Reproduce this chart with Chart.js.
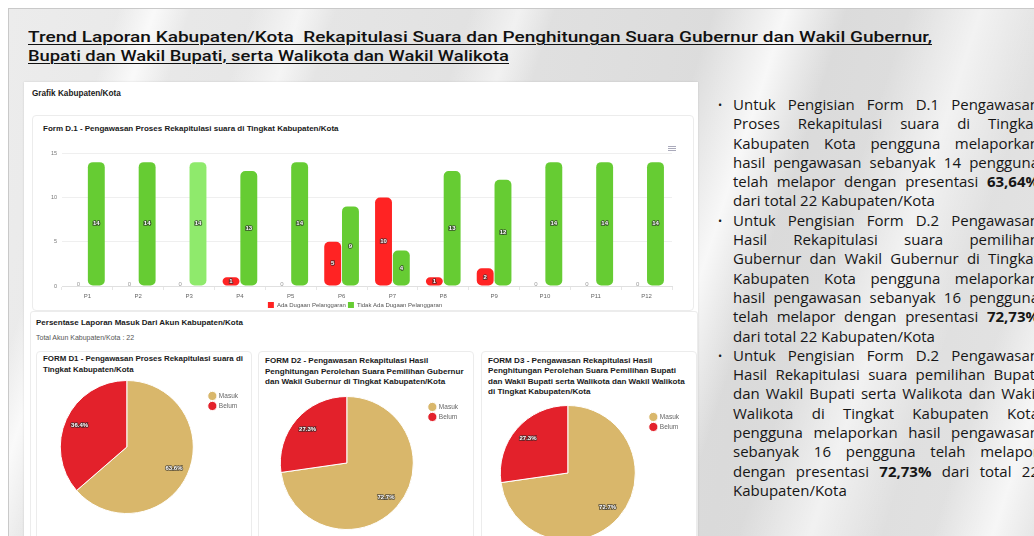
<!DOCTYPE html>
<html>
<head>
<meta charset="utf-8">
<script src="https://cdn.jsdelivr.net/npm/chart.js@4.4.1/dist/chart.umd.min.js"></script>
<style>
  html, body { margin: 0; padding: 0; }
  body { width: 1034px; height: 536px; overflow: hidden; background: #fff; position: relative; font-family: "Liberation Sans", Arial, sans-serif; }
  .slide {
    position: absolute; left: 8px; top: 8px; width: 1040px; height: 540px;
    border: 1px solid #c9c9c9;
    background:
      linear-gradient(108deg,
        rgba(255,255,255,0) 0%, rgba(255,255,255,0) 9%, rgba(255,255,255,.75) 12%, rgba(255,255,255,0) 15%,
        rgba(255,255,255,0) 20%, rgba(255,255,255,.6) 24%, rgba(255,255,255,0) 27%,
        rgba(255,255,255,0) 38%, rgba(255,255,255,.55) 42%, rgba(255,255,255,0) 45%,
        rgba(255,255,255,0) 58%, rgba(255,255,255,.8) 64%, rgba(255,255,255,0) 69%,
        rgba(255,255,255,0) 74%, rgba(255,255,255,.6) 80%, rgba(255,255,255,0) 86%,
        rgba(255,255,255,0) 90%, rgba(255,255,255,.7) 95%, rgba(255,255,255,0) 99%),
      linear-gradient(100deg, #ececec 0%, #e2e2e2 40%, #dadada 70%, #e4e4e4 100%);
  }
  .title { position: absolute; left: 28px; top: 28px; color: #111; font-family: Roboto, "Liberation Sans", sans-serif; font-weight: 500; font-size: 15px; line-height: 18.5px; }
  .title span { display: block; white-space: pre; text-decoration: underline; text-decoration-thickness: 1px; text-underline-offset: 2px; transform-origin: 0 0; width: max-content; }
  .panel { position: absolute; left: 24px; top: 82px; width: 674px; height: 460px; background: #fff; box-shadow: 0 0 2px rgba(0,0,0,.12); }
  .card { position: absolute; background: #fff; border: 1px solid #ececec; border-radius: 4px; }
  .lbl { position: absolute; white-space: nowrap; color: #1a1a1a; font-weight: bold; }
  canvas { position: absolute; }
  .menu { position: absolute; left: 668px; top: 146px; width: 8px; height: 5px;
    background: linear-gradient(#aab 0 1px, transparent 1px 2px, #aab 2px 3px, transparent 3px 4px, #aab 4px 5px); }
  .notes { position: absolute; left: 733px; top: 95px; width: 306px; font-family: "Open Sans", sans-serif; font-size: 15px; line-height: 19.3px; color: #161616; }
  .notes div { white-space: nowrap; }
  .notes .j { text-align: justify; text-align-last: justify; white-space: normal; }
  .notes .b { position: absolute; left: -15px; font-size: 11px; }
</style>
</head>
<body>
<div class="slide"></div>

<div class="title">
  <span data-w="904">Trend Laporan Kabupaten/Kota  Rekapitulasi Suara dan Penghitungan Suara Gubernur dan Wakil Gubernur,</span>
  <span data-w="481">Bupati dan Wakil Bupati, serta Walikota dan Wakil Walikota</span>
</div>

<div class="panel"></div>
<div class="card" style="left:32px; top:115px; width:660px; height:194px;"></div>
<div class="card" style="left:30px; top:311px; width:666px; height:240px; border-radius:3px;"></div>
<div class="card" style="left:36px; top:351px; width:214px; height:200px;"></div>
<div class="card" style="left:258px; top:351px; width:214px; height:200px;"></div>
<div class="card" style="left:481px; top:351px; width:214px; height:200px;"></div>

<div class="lbl" style="left:32px; top:89px; font-size:8.2px;">Grafik Kabupaten/Kota</div>
<div class="lbl" style="left:43px; top:124px; font-size:8px;">Form D.1 - Pengawasan Proses Rekapitulasi suara di Tingkat Kabupaten/Kota</div>
<div class="menu"></div>
<div class="lbl" style="left:36px; top:318px; font-size:8px;">Persentase Laporan Masuk Dari Akun Kabupaten/Kota</div>
<div class="lbl" style="left:36px; top:334px; font-size:7px; font-weight:normal; color:#555;">Total Akun Kabupaten/Kota : 22</div>
<div class="lbl" style="left:43px; top:354px; font-size:7.9px; line-height:10.7px;">FORM D1 - Pengawasan Proses Rekapitulasi suara di<br>Tingkat Kabupaten/Kota</div>
<div class="lbl" style="left:265px; top:356px; font-size:8.05px; line-height:10.5px;">FORM D2 - Pengawasan Rekapitulasi Hasil<br>Penghitungan Perolehan Suara Pemilihan Gubernur<br>dan Wakil Gubernur di Tingkat Kabupaten/Kota</div>
<div class="lbl" style="left:488px; top:356px; font-size:8.1px; line-height:10.4px;">FORM D3 - Pengawasan Rekapitulasi Hasil<br>Penghitungan Perolehan Suara Pemilihan Bupati<br>dan Wakil Bupati serta Walikota dan Wakil Walikota<br>di Tingkat Kabupaten/Kota</div>

<canvas id="bar" width="640" height="173" style="left:38px; top:145px;"></canvas>
<canvas id="pie1" width="200" height="134" style="left:48px; top:380px;"></canvas>
<canvas id="pie2" width="200" height="134" style="left:268px; top:396px;"></canvas>
<canvas id="pie3" width="200" height="136" style="left:489px; top:405px;"></canvas>

<div class="notes">
  <div class="j"><span class="b">•</span>Untuk Pengisian Form D.1 Pengawasan</div>
  <div class="j">Proses Rekapitulasi suara di Tingkat</div>
  <div class="j">Kabupaten Kota pengguna melaporkan</div>
  <div class="j">hasil pengawasan sebanyak 14 pengguna</div>
  <div class="j">telah melapor dengan presentasi <b>63,64%</b></div>
  <div>dari total 22 Kabupaten/Kota</div>
  <div class="j"><span class="b">•</span>Untuk Pengisian Form D.2 Pengawasan</div>
  <div class="j">Hasil Rekapitulasi suara pemilihan</div>
  <div class="j">Gubernur dan Wakil Gubernur di Tingkat</div>
  <div class="j">Kabupaten Kota pengguna melaporkan</div>
  <div class="j">hasil pengawasan sebanyak 16 pengguna</div>
  <div class="j">telah melapor dengan presentasi <b>72,73%</b></div>
  <div>dari total 22 Kabupaten/Kota</div>
  <div class="j"><span class="b">•</span>Untuk Pengisian Form D.2 Pengawasan</div>
  <div class="j">Hasil Rekapitulasi suara pemilihan Bupati</div>
  <div class="j">dan Wakil Bupati serta Walikota dan Wakil</div>
  <div class="j">Walikota di Tingkat Kabupaten Kota</div>
  <div class="j">pengguna melaporkan hasil pengawasan</div>
  <div class="j">sebanyak 16 pengguna telah melapor</div>
  <div class="j">dengan presentasi <b>72,73%</b> dari total 22</div>
  <div>Kabupaten/Kota</div>
</div>

<script>
// periode laporan
var periods = ['P1', 'P2', 'P3', 'P4', 'P5', 'P6', 'P7', 'P8', 'P9', 'P10', 'P11', 'P12'];
var adaDugaan = [0, 0, 0, 1, 0, 5, 10, 1, 2, 0, 0, 0];
var tidakAdaDugaan = [14, 14, 14, 13, 14, 9, 4, 13, 12, 14, 14, 14];
var yTicks = [0, 5, 10, 15];

// akun yang sudah / belum melapor per form
var pieLabels = ['Masuk', 'Belum'];
var formD1 = [14, 8];
var formD2 = [16, 6];
var formD3 = [16, 6];

var RED = '#ff2323';
var GREEN = '#66cc33';
var GREEN_HOVER = '#8fea6c';
var hoverIndex = 2;

Chart.defaults.font.family = '"Liberation Sans", Arial, sans-serif';
Chart.defaults.color = '#666';
Chart.defaults.animation = false;

// fit title lines to their width
document.querySelectorAll('.title span').forEach(function (el) {
    var w = el.getBoundingClientRect().width;
    el.style.transform = 'scaleX(' + (el.dataset.w / w) + ')';
});

function shadowText(ctx, text, x, y, size) {
    ctx.save();
    ctx.font = 'bold ' + size + 'px "Liberation Sans", Arial';
    ctx.textAlign = 'center';
    ctx.textBaseline = 'middle';
    ctx.lineWidth = 1.6;
    ctx.strokeStyle = 'rgba(40,40,40,0.75)';
    ctx.strokeText(text, x, y);
    ctx.fillStyle = '#fff';
    ctx.fillText(text, x, y);
    ctx.restore();
}

var barLabels = {
    id: 'barLabels',
    afterDatasetsDraw: function (chart) {
        var ctx = chart.ctx;
        chart.data.datasets.forEach(function (ds, i) {
            chart.getDatasetMeta(i).data.forEach(function (bar, j) {
                var v = ds.data[j];
                if (v > 0) {
                    shadowText(ctx, String(v), bar.x, (bar.y + bar.base) / 2, 6);
                } else {
                    ctx.save();
                    ctx.font = '6px "Liberation Sans", Arial';
                    ctx.fillStyle = '#999';
                    ctx.textAlign = 'center';
                    ctx.textBaseline = 'bottom';
                    ctx.fillText('0', bar.x, bar.base + 1);
                    ctx.restore();
                }
            });
        });
    }
};

var pieLabelsPlugin = {
    id: 'pieLabels',
    afterDatasetsDraw: function (chart) {
        var ds = chart.data.datasets[0];
        var total = ds.data.reduce(function (a, b) { return a + b; }, 0);
        chart.getDatasetMeta(0).data.forEach(function (arc, j) {
            var mid = (arc.startAngle + arc.endAngle) / 2;
            var r = arc.outerRadius * 0.78;
            var pct = (ds.data[j] / total * 100).toFixed(1) + '%';
            shadowText(chart.ctx, pct, arc.x + Math.cos(mid) * r, arc.y + Math.sin(mid) * r, 6);
        });
    }
};

new Chart(document.getElementById('bar'), {
    type: 'bar',
    data: {
        labels: periods,
        datasets: [{
            label: 'Ada Dugaan Pelanggaran',
            data: adaDugaan,
            backgroundColor: RED,
            borderRadius: 5,
            borderSkipped: false
        }, {
            label: 'Tidak Ada Dugaan Pelanggaran',
            data: tidakAdaDugaan,
            backgroundColor: tidakAdaDugaan.map(function (v, i) { return i === hoverIndex ? GREEN_HOVER : GREEN; }),
            borderRadius: 5,
            borderSkipped: false
        }]
    },
    plugins: [barLabels],
    options: {
        responsive: false,
        layout: { padding: { top: 6, right: 6, left: 0, bottom: 0 } },
        categoryPercentage: 0.7,
        barPercentage: 0.95,
        scales: {
            x: {
                grid: { drawOnChartArea: false, tickLength: 4, color: '#e6e6e6' },
                border: { color: '#e0e0e0' },
                ticks: { font: { size: 6 }, padding: 3 },
                afterFit: function (s) { s.height = 14; }
            },
            y: {
                min: 0,
                max: 15,
                afterBuildTicks: function (s) { s.ticks = yTicks.map(function (v) { return { value: v }; }); },
                grid: { color: '#efefef', drawTicks: false },
                border: { display: false },
                ticks: { font: { size: 5.5 }, padding: 5, color: '#777' },
                afterFit: function (s) { s.width = 24; }
            }
        },
        plugins: {
            legend: {
                position: 'bottom',
                labels: { boxWidth: 6, boxHeight: 6, font: { size: 6 }, padding: 2, color: '#555' }
            },
            tooltip: { enabled: false }
        }
    }
});

// legendTop: space above the first legend entry
function pieChart(id, values, legendTop) {
    return new Chart(document.getElementById(id), {
        type: 'pie',
        data: {
            labels: pieLabels,
            datasets: [{
                data: values,
                backgroundColor: ['#d9b76b', '#e3212b'],
                borderColor: '#fff',
                borderWidth: 1
            }]
        },
        plugins: [pieLabelsPlugin],
        options: {
            responsive: false,
            plugins: {
                legend: {
                    position: 'right',
                    align: 'start',
                    title: { display: true, text: ' ', font: { size: 1 }, padding: { top: legendTop, bottom: 0 } },
                    labels: {
                        usePointStyle: true,
                        pointStyle: 'circle',
                        boxWidth: 7,
                        font: { size: 6.5 },
                        padding: 3.5,
                        color: '#666'
                    }
                },
                tooltip: { enabled: false }
            }
        }
    });
}

pieChart('pie1', formD1, 8);
pieChart('pie2', formD2, 3);
pieChart('pie3', formD3, 4);
</script>
</body>
</html>
